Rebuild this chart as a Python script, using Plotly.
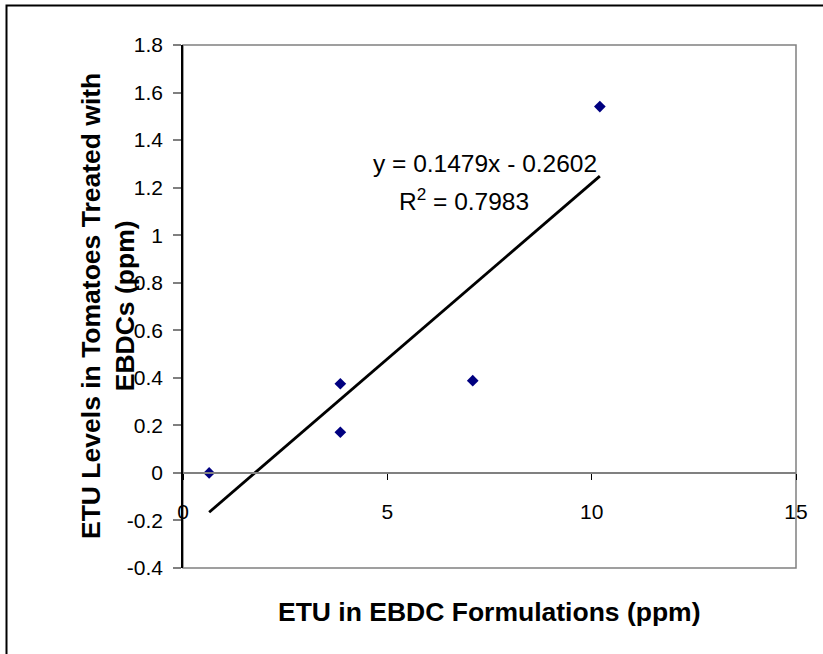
import plotly.graph_objects as go

# Data
etu_formulation = [0.64, 3.85, 3.85, 7.09, 10.2]
etu_tomatoes = [0.0, 0.375, 0.171, 0.388, 1.541]
slope = 0.1479
intercept = -0.2602
r_squared = 0.7983
x_ticks = [0, 5, 10, 15]
y_ticks = [-0.4, -0.2, 0, 0.2, 0.4, 0.6, 0.8, 1, 1.2, 1.4, 1.6, 1.8]

W, H = 823, 654
L, R, T, B = 183, 27, 45, 86
pw, ph = W - L - R, H - T - B


def px(xpix):
    return (xpix - L) / pw


def py(ypix):
    return (H - B - ypix) / ph


fig = go.Figure()

x_fit = [min(etu_formulation), max(etu_formulation)]
y_fit = [slope * v + intercept for v in x_fit]
fig.add_trace(go.Scatter(x=x_fit, y=y_fit, mode="lines",
                         line=dict(color="black", width=2.8),
                         hoverinfo="skip", showlegend=False))
fig.add_trace(go.Scatter(x=etu_formulation, y=etu_tomatoes, mode="markers",
                         marker=dict(symbol="diamond", size=9, color="#000080"),
                         showlegend=False))

font = "Liberation Sans, Arial, sans-serif"
TICK_FS = 21
TITLE_FS = 26.5
EQ_FS = 24.5

fig.update_layout(
    width=W, height=H, autosize=False,
    margin=dict(l=L, r=R, t=T, b=B),
    paper_bgcolor="white", plot_bgcolor="white",
    font=dict(family=font, size=TICK_FS, color="black"),
    xaxis=dict(range=[0, 15], tickvals=x_ticks, ticktext=[str(v) for v in x_ticks],
               anchor="free", position=0.4 / 2.2,
               showline=True, linecolor="#808080", linewidth=1.5,
               ticks="outside", ticklen=6, tickcolor="black", tickwidth=1,
               ticklabelstandoff=14,
               showgrid=False, zeroline=False,
               tickfont=dict(size=TICK_FS)),
    yaxis=dict(range=[-0.4, 1.8], tickvals=y_ticks,
               ticktext=[f"{v:g}" for v in y_ticks],
               showline=True, linecolor="black", linewidth=1.5,
               ticks="outside", ticklen=8, tickcolor="#808080", tickwidth=1.5,
               ticklabelstandoff=6,
               showgrid=False, zeroline=False,
               tickfont=dict(size=TICK_FS)),
    showlegend=False,
)

# y-axis title (two lines, rotated)
fig.add_annotation(text="<b>ETU Levels in Tomatoes Treated with<br>EBDCs (ppm)</b>",
                   xref="paper", yref="paper", x=px(108), y=py(306), textangle=-90,
                   showarrow=False, font=dict(size=TITLE_FS), xanchor="center", yanchor="middle")

# x-axis title
fig.add_annotation(text="<b>ETU in EBDC Formulations (ppm)</b>", xref="paper", yref="paper",
                   x=px(490), y=py(612), showarrow=False,
                   font=dict(size=TITLE_FS), xanchor="center", yanchor="middle")

# plot area border
fig.add_shape(type="rect", xref="x domain", yref="y domain", x0=0, x1=1, y0=0, y1=1,
              line=dict(color="#808080", width=1.5), layer="below")

# outer chart border
fig.add_shape(type="rect", xref="paper", yref="paper",
              x0=px(6.5), x1=px(W + 10), y0=py(H + 10), y1=py(5.5),
              line=dict(color="black", width=2))

# trendline equation
fig.add_annotation(text=f"y = {slope}x - {abs(intercept)}", xref="paper", yref="paper",
                   x=px(485), y=py(163), showarrow=False,
                   font=dict(size=EQ_FS), xanchor="center", yanchor="middle")
fig.add_annotation(text=f"R<sup>2</sup> = {r_squared}", xref="paper", yref="paper",
                   x=px(464), y=py(199), showarrow=False,
                   font=dict(size=EQ_FS), xanchor="center", yanchor="middle")

fig.write_html("out.html", config={"displayModeBar": False},
               post_script="document.body.style.margin='0';")
